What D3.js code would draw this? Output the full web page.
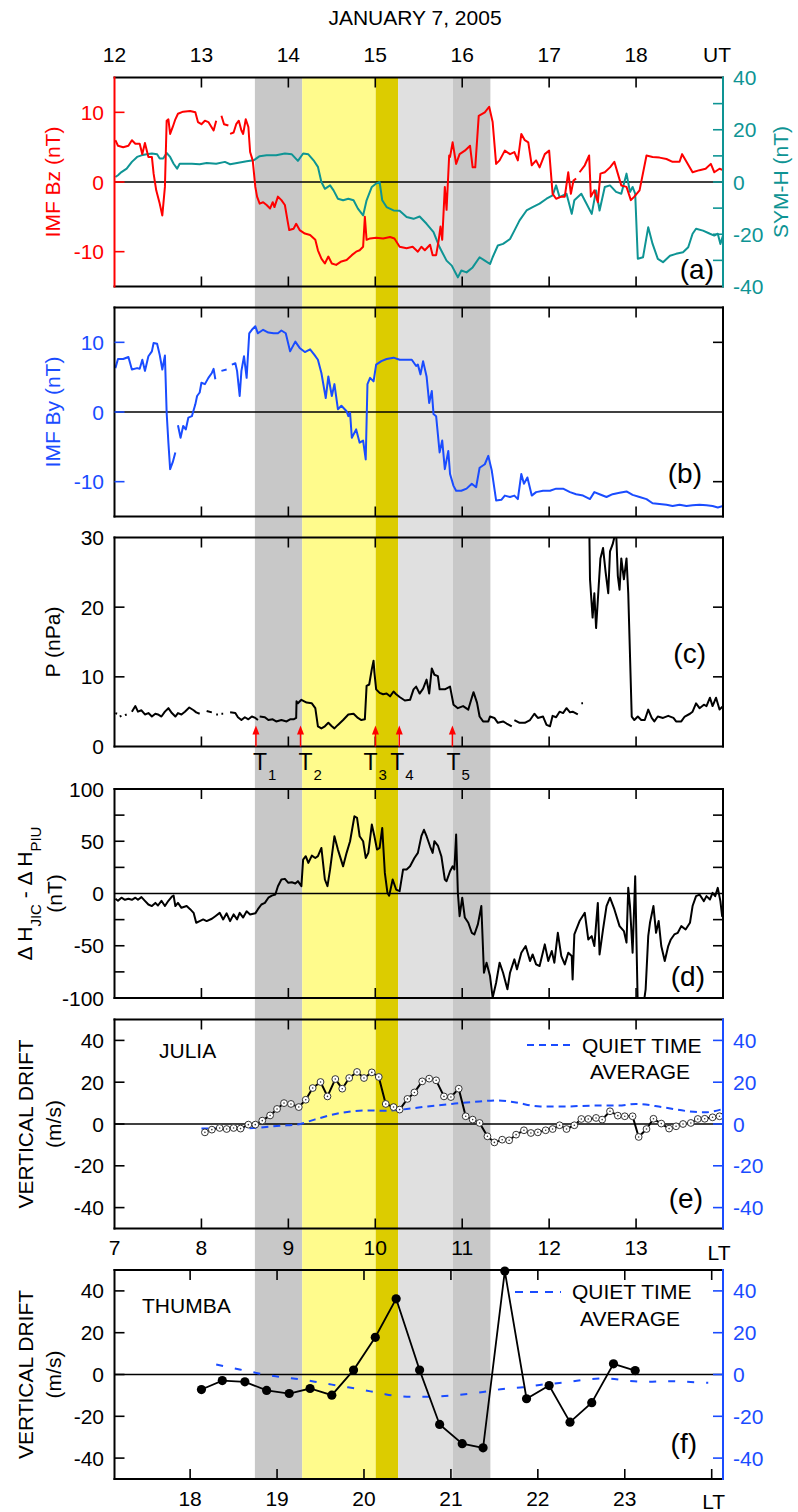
<!DOCTYPE html>
<html>
<head>
<meta charset="utf-8">
<title>January 7, 2005</title>
<script src="https://d3js.org/d3.v7.min.js"></script>
<style>
body { margin:0; background:#fff; }
text { font-family: "Liberation Sans", Arial, sans-serif; }
</style>
</head>
<body>
<div id="chart"></div>
<script>

// ---- data (UT hours, value); null = data gap ----
var bzSeries = [[12.01,6.0],[12.04,5.2],[12.10,5.0],[12.16,5.2],[12.20,6.0],[12.24,5.5],[12.29,5.5],[12.32,4.0],[12.35,5.6],[12.39,3.6],[12.43,3.6],[12.45,1.2],[12.48,-1.2],[12.52,-3.1],[12.55,-4.8],[12.58,-0.7],[12.60,8.8],[12.62,9.0],[12.64,6.9],[12.67,7.9],[12.70,9.0],[12.73,9.8],[12.79,10.1],[12.87,10.2],[12.93,10.0],[12.96,8.6],[13.00,8.3],[13.04,8.8],[13.08,8.6],[13.14,7.4],[13.17,8.8],[13.20,null],[13.23,9.5],[13.26,8.3],[13.31,8.1],[13.32,null],[13.33,6.9],[13.37,7.1],[13.40,8.3],[13.43,8.8],[13.46,7.4],[13.48,6.9],[13.51,9.0],[13.54,7.9],[13.56,4.3],[13.59,3.1],[13.62,-0.7],[13.64,-2.1],[13.67,-3.1],[13.71,-2.9],[13.75,-3.3],[13.79,-3.8],[13.82,-2.9],[13.84,-3.6],[13.88,-2.1],[13.92,-2.6],[13.96,-3.3],[13.99,-5.5],[14.01,-6.9],[14.06,-6.7],[14.09,-6.0],[14.13,-6.9],[14.19,-7.4],[14.25,-7.6],[14.31,-8.3],[14.34,-9.8],[14.38,-11.0],[14.42,-11.7],[14.46,-10.7],[14.50,-11.7],[14.55,-11.9],[14.61,-11.4],[14.67,-11.2],[14.73,-10.5],[14.78,-10.0],[14.82,-9.8],[14.86,-9.3],[14.88,-5.0],[14.90,-8.3],[14.94,-8.1],[15.01,-8.0],[15.09,-8.1],[15.17,-7.9],[15.22,-8.1],[15.28,-9.3],[15.36,-9.5],[15.43,-9.3],[15.49,-10.0],[15.53,-9.3],[15.57,-9.8],[15.63,-9.0],[15.66,-10.5],[15.70,-10.5],[15.73,-8.3],[15.75,-6.4],[15.77,-8.3],[15.80,-0.7],[15.82,-4.0],[15.85,3.8],[15.86,3.6],[15.89,5.7],[15.93,2.6],[15.97,4.0],[16.03,4.5],[16.09,5.2],[16.12,2.1],[16.15,2.1],[16.19,9.5],[16.26,10.0],[16.31,10.8],[16.35,8.6],[16.39,2.6],[16.43,3.1],[16.49,4.5],[16.55,4.0],[16.60,4.3],[16.64,3.1],[16.68,6.9],[16.72,6.0],[16.76,5.7],[16.80,2.4],[16.85,3.1],[16.89,2.1],[16.95,4.0],[17.00,4.5],[17.04,-1.7],[17.08,-2.4],[17.14,-2.1],[17.18,-2.1],[17.22,1.4],[17.25,-1.7],[17.28,0.2],[17.31,0.5],[17.33,null],[17.35,1.4],[17.41,2.4],[17.46,3.8],[17.48,-2.1],[17.52,-1.2],[17.56,-2.9],[17.59,1.2],[17.64,1.4],[17.70,2.1],[17.75,2.9],[17.79,1.2],[17.83,-0.5],[17.89,-0.7],[17.94,-2.6],[17.98,-2.1],[18.04,-1.2],[18.12,3.8],[18.19,3.6],[18.27,3.5],[18.35,3.3],[18.42,2.9],[18.50,2.9],[18.53,4.0],[18.58,2.9],[18.65,1.4],[18.73,1.7],[18.80,1.9],[18.86,2.6],[18.90,1.4],[18.96,1.9],[19.00,1.7]];

var symhSeries = [[12.01,1.9],[12.04,2.6],[12.08,3.8],[12.14,5.1],[12.20,7.7],[12.26,9.6],[12.31,10.2],[12.37,10.6],[12.43,10.9],[12.49,10.6],[12.52,9.0],[12.56,9.0],[12.60,11.1],[12.64,9.6],[12.68,7.0],[12.72,5.1],[12.75,7.0],[12.81,7.0],[12.89,7.0],[12.98,6.8],[13.06,7.3],[13.17,7.0],[13.27,7.7],[13.33,6.8],[13.41,7.3],[13.52,7.9],[13.60,8.3],[13.67,9.9],[13.75,10.2],[13.86,10.2],[13.96,10.9],[14.04,10.6],[14.11,8.1],[14.17,10.9],[14.23,10.6],[14.29,8.3],[14.34,5.8],[14.38,0],[14.42,-2.6],[14.48,-1.3],[14.52,-3.2],[14.57,-6.4],[14.63,-7.0],[14.69,-6.4],[14.75,-7.0],[14.80,-10.2],[14.86,-12.8],[14.90,-7.0],[14.96,-1.9],[15.01,-0.6],[15.05,0],[15.08,-7.0],[15.13,-9.6],[15.21,-10.9],[15.28,-11.0],[15.36,-13.4],[15.44,-14.1],[15.51,-13.2],[15.59,-16.0],[15.67,-19.2],[15.74,-25.0],[15.82,-30.1],[15.88,-32.0],[15.93,-35.2],[15.95,-36.5],[15.99,-33.9],[16.05,-34.6],[16.12,-32.7],[16.20,-28.8],[16.26,-30.1],[16.32,-31.4],[16.35,-28.8],[16.41,-24.3],[16.47,-23.7],[16.55,-21.8],[16.60,-18.6],[16.66,-14.7],[16.74,-10.9],[16.81,-9.6],[16.89,-8.3],[16.97,-6.4],[17.04,-5.1],[17.08,-1.3],[17.12,-5.8],[17.20,-4.5],[17.26,-12.2],[17.29,-7.0],[17.37,-4.5],[17.43,-8.3],[17.49,-12.2],[17.54,-3.2],[17.58,-10.9],[17.64,-1.9],[17.70,-1.3],[17.77,-3.8],[17.83,-4.5],[17.89,3.2],[17.93,-3.8],[17.96,-1.9],[17.99,-4.5],[18.02,-29.4],[18.08,-28.8],[18.14,-17.3],[18.19,-23.7],[18.25,-29.4],[18.31,-30.7],[18.39,-28.2],[18.46,-27.5],[18.54,-26.9],[18.60,-25.0],[18.65,-19.8],[18.69,-17.9],[18.77,-18.6],[18.85,-19.8],[18.90,-20.5],[18.94,-19.8],[18.97,-23.7],[19.00,-20.5]];

var bySeries = [[12.01,6.3],[12.04,7.6],[12.10,7.6],[12.16,7.9],[12.20,6.1],[12.26,6.3],[12.29,6.2],[12.32,7.5],[12.35,5.9],[12.39,8.0],[12.43,8.7],[12.45,9.9],[12.49,9.8],[12.52,8.2],[12.55,6.1],[12.58,8.1],[12.60,-0.1],[12.62,-4.4],[12.64,-8.2],[12.67,-7.2],[12.70,-5.8],[12.71,null],[12.73,-1.9],[12.76,-3.7],[12.79,-2.0],[12.82,-2.5],[12.85,-0.8],[12.89,-0.6],[12.93,1.1],[12.95,2.3],[12.98,2.8],[13.00,4.2],[13.04,4.0],[13.08,4.9],[13.12,5.6],[13.14,6.2],[13.16,4.7],[13.20,null],[13.23,5.9],[13.29,6.1],[13.31,null],[13.35,6.8],[13.39,7.0],[13.41,5.9],[13.44,2.3],[13.46,5.9],[13.49,8.0],[13.52,4.9],[13.55,11.3],[13.58,11.8],[13.62,12.3],[13.65,11.3],[13.71,11.8],[13.77,11.4],[13.83,11.3],[13.88,11.3],[13.92,11.7],[13.97,11.3],[14.02,8.7],[14.08,10.1],[14.13,9.2],[14.19,8.6],[14.25,9.0],[14.30,8.2],[14.34,7.5],[14.38,5.6],[14.43,2.0],[14.46,5.1],[14.50,2.3],[14.53,4.0],[14.57,0.4],[14.61,0.9],[14.67,0.1],[14.69,-0.6],[14.71,-0.1],[14.73,-3.7],[14.78,-2.5],[14.82,-4.4],[14.86,-4.1],[14.89,-6.8],[14.91,4.0],[14.94,4.9],[14.98,4.4],[15.01,6.8],[15.07,7.3],[15.13,7.6],[15.21,7.8],[15.28,7.5],[15.36,7.5],[15.42,7.5],[15.47,6.6],[15.49,6.8],[15.52,5.4],[15.55,7.3],[15.59,5.1],[15.62,1.3],[15.65,3.0],[15.67,-0.3],[15.70,-0.6],[15.74,-5.8],[15.77,-4.1],[15.80,-8.2],[15.84,-5.6],[15.86,-8.9],[15.90,-10.6],[15.93,-11.3],[15.99,-11.3],[16.05,-11.0],[16.11,-10.3],[16.16,-10.8],[16.20,-8.0],[16.26,-7.5],[16.30,-6.3],[16.34,-8.4],[16.39,-12.7],[16.45,-12.6],[16.49,-12.0],[16.55,-12.2],[16.60,-12.0],[16.64,-12.5],[16.68,-8.9],[16.71,-10.3],[16.75,-9.4],[16.80,-12.0],[16.85,-11.5],[16.93,-11.3],[17.01,-11.3],[17.08,-11.0],[17.16,-11.0],[17.24,-11.5],[17.31,-11.8],[17.39,-12.0],[17.47,-12.5],[17.52,-11.5],[17.58,-11.8],[17.66,-12.2],[17.73,-11.8],[17.81,-11.6],[17.89,-11.4],[17.96,-11.9],[18.04,-12.2],[18.12,-12.5],[18.19,-13.1],[18.27,-13.2],[18.35,-13.3],[18.42,-13.5],[18.50,-13.3],[18.58,-13.5],[18.65,-13.4],[18.73,-13.3],[18.81,-13.4],[18.88,-13.5],[18.94,-13.7],[19.00,-13.5]];

var pSeries = [[12.01,4.8],[12.03,4.7],[12.04,null],[12.06,4.3],[12.08,4.4],[12.09,null],[12.12,4.5],[12.14,4.6],[12.16,null],[12.20,5.0],[12.24,5.8],[12.27,5.0],[12.31,5.2],[12.35,4.6],[12.39,4.8],[12.43,4.3],[12.47,4.7],[12.50,4.6],[12.54,4.3],[12.58,5.0],[12.62,5.5],[12.66,4.8],[12.70,4.3],[12.73,4.8],[12.77,4.6],[12.81,5.0],[12.86,5.6],[12.91,5.2],[12.94,4.9],[12.98,4.7],[13.00,null],[13.06,5.1],[13.12,4.9],[13.13,null],[13.17,4.6],[13.19,4.6],[13.20,null],[13.23,4.7],[13.25,4.7],[13.26,null],[13.33,4.9],[13.39,4.8],[13.42,4.2],[13.46,3.8],[13.50,4.2],[13.54,3.9],[13.58,4.3],[13.62,4.1],[13.65,3.8],[13.66,null],[13.67,4.3],[13.73,4.2],[13.77,3.8],[13.82,3.9],[13.86,3.6],[13.92,3.8],[13.98,3.6],[14.02,3.9],[14.06,3.9],[14.09,4.1],[14.094,6.5],[14.11,6.2],[14.15,6.7],[14.21,6.3],[14.27,6.2],[14.31,5.5],[14.34,2.9],[14.38,2.6],[14.42,2.9],[14.46,3.4],[14.50,2.9],[14.53,2.6],[14.57,3.1],[14.63,3.8],[14.69,4.6],[14.75,4.7],[14.80,4.1],[14.84,3.8],[14.88,3.9],[14.90,8.7],[14.93,8.9],[14.96,11.1],[14.98,12.3],[14.99,10.6],[15.01,8.2],[15.05,7.7],[15.09,7.5],[15.13,7.6],[15.17,7.2],[15.21,7.9],[15.24,7.5],[15.28,7.1],[15.34,6.6],[15.40,6.7],[15.44,8.2],[15.47,8.6],[15.51,7.6],[15.55,8.3],[15.59,9.6],[15.62,7.6],[15.65,11.2],[15.68,10.3],[15.72,10.1],[15.74,8.2],[15.80,8.2],[15.86,8.6],[15.90,6.0],[15.95,5.5],[16.01,5.8],[16.07,5.3],[16.11,7.0],[16.13,7.8],[16.17,6.3],[16.20,4.3],[16.24,3.6],[16.30,3.6],[16.32,4.3],[16.37,4.1],[16.41,3.4],[16.47,3.6],[16.51,3.3],[16.57,2.9],[16.58,null],[16.60,3.8],[16.66,3.4],[16.72,3.4],[16.78,3.8],[16.83,4.7],[16.87,4.1],[16.93,4.3],[16.97,3.1],[17.01,2.9],[17.04,4.4],[17.08,4.2],[17.12,5.0],[17.16,4.8],[17.20,5.5],[17.24,4.9],[17.27,5.0],[17.33,4.6],[17.36,null],[17.37,6.2],[17.39,6.2],[17.41,null],[17.46,33],[17.47,24],[17.50,18.5],[17.52,22],[17.54,17],[17.57,23],[17.59,27],[17.62,28.5],[17.65,25],[17.68,22],[17.70,28],[17.73,29],[17.77,31],[17.79,24.5],[17.81,22.5],[17.83,27],[17.86,24],[17.89,27],[17.91,22],[17.95,4.3],[17.98,3.8],[18.02,4.3],[18.06,3.8],[18.10,3.8],[18.14,5.3],[18.18,4.1],[18.21,3.6],[18.25,4.3],[18.31,4.1],[18.37,4.4],[18.43,4.1],[18.46,3.6],[18.52,3.6],[18.56,4.3],[18.62,4.7],[18.65,5.0],[18.69,6.2],[18.73,5.5],[18.78,6.0],[18.81,5.8],[18.85,7.0],[18.88,5.8],[18.92,7.0],[18.96,5.3],[19.00,5.8]];

var dhSeries = [[12.01,-5],[12.04,-7],[12.08,-4],[12.12,-6],[12.16,-5],[12.20,-6],[12.24,-4],[12.27,-6],[12.31,-3.5],[12.35,-7],[12.39,-10.5],[12.43,-12],[12.47,-9],[12.50,-11.5],[12.54,-7],[12.58,-12],[12.62,-7],[12.66,-3],[12.68,-2],[12.70,-12],[12.73,-9],[12.77,-13.7],[12.83,-12],[12.87,-15],[12.91,-18.5],[12.94,-28],[12.98,-26.4],[13.02,-24.8],[13.06,-26.4],[13.12,-24.2],[13.16,-21.7],[13.21,-18.5],[13.25,-24.8],[13.29,-19],[13.33,-26.4],[13.37,-20],[13.41,-24.8],[13.44,-18.5],[13.48,-23],[13.52,-17],[13.56,-20],[13.62,-19],[13.65,-15],[13.69,-10.5],[13.73,-9],[13.77,-4],[13.81,-2],[13.85,-1],[13.88,7],[13.92,13.4],[13.96,14],[14.00,10.2],[14.04,10.8],[14.08,9.6],[14.11,11.8],[14.15,7],[14.17,32.5],[14.20,35.7],[14.23,29.3],[14.27,36.3],[14.31,34],[14.34,35.7],[14.38,43.6],[14.42,13.4],[14.45,7],[14.48,23],[14.53,54.8],[14.57,42],[14.63,26],[14.67,38.9],[14.71,50],[14.76,73.9],[14.79,72.3],[14.82,54.8],[14.86,50],[14.89,34],[14.92,38.9],[14.96,66],[14.99,54.8],[15.02,42],[15.05,43.6],[15.08,62.7],[15.11,19.7],[15.14,0.6],[15.16,-2],[15.20,13.4],[15.24,3.8],[15.28,2.2],[15.32,23],[15.36,23],[15.40,26],[15.45,34],[15.49,38.9],[15.53,54.8],[15.56,61],[15.59,54.8],[15.63,45.2],[15.66,38.9],[15.68,50],[15.72,45.9],[15.76,35.7],[15.80,13.4],[15.82,11.8],[15.86,21.3],[15.89,26],[15.91,23],[15.93,56.4],[15.95,0.6],[15.97,-21.7],[16.00,-4],[16.03,-23],[16.07,-28],[16.11,-37.6],[16.14,-39.2],[16.18,-29.6],[16.22,-12],[16.25,-75.8],[16.28,-66.2],[16.32,-79],[16.35,-99.7],[16.39,-85.4],[16.43,-66.2],[16.47,-75.8],[16.52,-91.7],[16.55,-75.8],[16.60,-63],[16.63,-72.6],[16.68,-56.7],[16.73,-50.3],[16.78,-64.6],[16.81,-58.3],[16.85,-67.8],[16.89,-69.4],[16.95,-48.7],[16.99,-64.6],[17.03,-55],[17.06,-66.2],[17.10,-37.6],[17.14,-59.9],[17.18,-67.8],[17.22,-56.7],[17.26,-59.9],[17.27,-82.2],[17.29,-39.2],[17.35,-26.4],[17.41,-18.5],[17.45,-44],[17.49,-40.8],[17.52,-50.3],[17.56,-9],[17.58,-58.3],[17.62,-34.4],[17.66,-12],[17.70,-4],[17.75,-15],[17.81,-31.2],[17.86,-36],[17.89,-47],[17.91,5.4],[17.93,-12],[17.96,-56.7],[17.99,16.6],[18.02,-110],[18.08,-110],[18.11,-91.7],[18.14,-40.8],[18.16,-28],[18.20,-12],[18.23,-37.6],[18.26,-26.4],[18.29,-50.3],[18.33,-64.6],[18.37,-50.3],[18.40,-44],[18.44,-39.2],[18.48,-37.6],[18.52,-31.2],[18.57,-34.4],[18.62,-28],[18.65,-12],[18.69,-2.5],[18.73,-1],[18.78,-7.3],[18.81,-2.5],[18.85,-5.7],[18.88,0.6],[18.91,-2.5],[18.94,5.4],[18.97,-7.3],[18.99,-21.7],[19.00,-12]];

// Jicamarca (Peru) drift, local time = UT - 5
var julLT = [8.04,8.12,8.21,8.29,8.37,8.45,8.54,8.62,8.70,8.79,8.87,8.95,9.03,9.12,9.20,9.28,9.37,9.45,9.54,9.62,9.70,9.79,9.87,9.96,10.04,10.12,10.21,10.28,10.37,10.45,10.54,10.62,10.70,10.79,10.87,10.96,11.04,11.12,11.20,11.29,11.37,11.46,11.54,11.62,11.71,11.79,11.87,11.96,12.04,12.12,12.20,12.29,12.37,12.45,12.54,12.61,12.70,12.79,12.87,12.96,13.03,13.12,13.20,13.29,13.38,13.46,13.54,13.63,13.71,13.79,13.88,13.96];
var julDrift = [-4.0,-2.7,-1.9,-2.4,-1.9,-2.2,-0.3,-0.3,1.6,4.1,7.2,10.0,9.6,8.1,11.6,17.2,20.1,13.2,21.5,16.9,22.0,24.9,22.0,24.7,22.5,9.6,8.1,6.9,12.0,15.1,20.4,21.7,20.9,13.2,12.9,16.9,3.7,2.1,0.5,-5.9,-8.8,-7.5,-7.8,-5.1,-3.0,-4.3,-4.0,-3.0,-2.4,-0.6,-2.4,-0.6,2.4,2.4,2.9,2.1,6.1,4.0,3.7,3.7,-6.2,-2.4,2.5,0.2,-2.2,-1.1,0,0.5,2.4,2.5,3.2,3.7];
var julQuietLT = [8.0,8.3,8.6,8.9,9.1,9.3,9.6,9.9,10.1,10.3,10.6,10.9,11.2,11.4,11.6,11.9,12.2,12.5,12.8,13.0,13.3,13.6,13.8,14.0];
var julQuiet = [-2.2,-2.2,-1.9,-0.8,-0.3,2.1,5.3,6.5,6.3,6.9,8.4,9.7,10.8,11.3,10.4,8.4,8.4,8.8,8.8,9.6,8.1,6.1,5.6,7.2];

// Thumba (India) drift, local time = UT + 5.13
var thuLT = [18.13,18.37,18.63,18.88,19.14,19.38,19.63,19.88,20.13,20.37,20.64,20.87,21.13,21.37,21.62,21.87,22.13,22.37,22.62,22.87,23.12];
var thuDrift = [-7.2,-2.9,-3.5,-7.6,-9.1,-6.7,-9.9,2.1,17.8,36.2,2.1,-23.9,-33.1,-35.1,49.5,-11.6,-5.3,-22.8,-13.5,5.1,1.9];
var thuQuietLT = [18.30,18.57,18.82,19.05,19.28,19.51,19.74,19.97,20.20,20.41,20.64,20.87,21.10,21.37,21.60,21.83,22.06,22.33,22.56,22.79,23.02,23.25,23.48,23.71,23.96];
var thuQuiet = [4.8,2.4,0.3,-1.3,-2.4,-4.0,-5.6,-7.2,-9.1,-10.4,-10.7,-10.4,-9.7,-8.4,-6.9,-6.1,-4.8,-3.7,-2.4,-1.9,-2.9,-3.5,-3.2,-3.5,-4.0];

// shaded intervals (UT) and event markers
var bandStart = [13.615, 14.159, 15.005, 15.264, 15.894];
var bandEnd   = [14.159, 15.005, 15.264, 15.894, 16.324];
var bandColor = ["#c8c8c8", "#fffb8c", "#dccc00", "#e0e0e0", "#c8c8c8"];
var tTimes = [13.627, 14.14, 15.002, 15.276, 15.887];
var tNames = ["1", "2", "3", "4", "5"];
var tDx = [-3, -2, -12, -9, -6];

var utTicks = [12,13,14,15,16,17,18];
var julTicks = [7,8,9,10,11,12,13];
var thuTicks = [18,19,20,21,22,23];

// ---- layout ----
var W = 798, H = 1512, L = 114.5, R = 723, PH = 209, FS = "21px";
var RED = "#ff0000", TEAL = "#0e9494", BLUE = "#1a4cff";

var svg = d3.select("#chart").append("svg").attr("width", W).attr("height", H);
var defs = svg.append("defs");

var xUT = d3.scaleLinear().domain([12, 19]).range([L, R]);
var xJul = d3.scaleLinear().domain([12 - 5, 19 - 5]).range([L, R]);
var xThu = d3.scaleLinear().domain([12 + 5.13, 19 + 5.13]).range([L, R]);

var topA = 77.5, topB = 307.5, topC = 537.5, topD = 789, topE = 1019.5, topF = 1270;

// shaded bands behind everything
svg.selectAll(".band").data(bandStart).enter().append("rect")
  .attr("x", (d,i) => xUT(d))
  .attr("width", (d,i) => xUT(bandEnd[i]) - xUT(d))
  .attr("y", topA).attr("height", topF + PH - topA)
  .attr("fill", (d,i) => bandColor[i]);

function clip(id, top) {
  defs.append("clipPath").attr("id", id).append("rect")
    .attr("x", L).attr("y", top).attr("width", R - L).attr("height", PH);
  return "url(#" + id + ")";
}

function zeroLine(y) {
  svg.append("line").attr("x1", L).attr("x2", R).attr("y1", y(0)).attr("y2", y(0))
    .attr("stroke", "#000").attr("stroke-width", 1.6);
}

function series(data, y, color, clipUrl, xs) {
  xs = xs || xUT;
  var line = d3.line().defined(d => d[1] !== null).x(d => xs(d[0])).y(d => y(d[1]));
  svg.append("path").datum(data).attr("d", line).attr("fill", "none")
    .attr("stroke", color).attr("stroke-width", 2).attr("stroke-linejoin", "round")
    .attr("clip-path", clipUrl);
}

function frame(top, leftCol, rightCol) {
  var b = top + PH;
  var g = svg.append("g").attr("stroke-width", 2).attr("stroke-linecap", "square");
  g.append("line").attr("x1", L).attr("x2", R).attr("y1", top).attr("y2", top).attr("stroke", "#000");
  g.append("line").attr("x1", L).attr("x2", R).attr("y1", b).attr("y2", b).attr("stroke", "#000");
  g.append("line").attr("x1", L).attr("x2", L).attr("y1", top).attr("y2", b).attr("stroke", leftCol);
  g.append("line").attr("x1", R).attr("x2", R).attr("y1", top).attr("y2", b).attr("stroke", rightCol);
}

function xTicks(top, xs, vals) {
  var b = top + PH;
  vals.forEach(function(v) {
    var x = xs(v);
    if (x <= L + 1 || x >= R - 1) return;
    svg.append("line").attr("x1", x).attr("x2", x).attr("y1", top).attr("y2", top + 10).attr("stroke", "#000").attr("stroke-width", 1.6);
    svg.append("line").attr("x1", x).attr("x2", x).attr("y1", b - 10).attr("y2", b).attr("stroke", "#000").attr("stroke-width", 1.6);
  });
}

function yTicks(y, vals, side, color) {
  vals.forEach(function(v) {
    var x0 = side == "l" ? L : R - 10;
    svg.append("line").attr("x1", x0).attr("x2", x0 + 10).attr("y1", y(v)).attr("y2", y(v))
      .attr("stroke", color).attr("stroke-width", 1.6);
  });
}

function yLabels(y, vals, side, color) {
  vals.forEach(function(v) {
    svg.append("text").attr("x", side == "l" ? 104 : 733).attr("y", y(v)).attr("dy", "0.36em")
      .attr("text-anchor", side == "l" ? "end" : "start").attr("fill", color)
      .style("font-size", FS).text(v);
  });
}

function vtext(x, y, str, color) {
  return svg.append("text").attr("transform", "translate(" + x + "," + y + ") rotate(-90)")
    .attr("text-anchor", "middle").attr("fill", color).style("font-size", FS).text(str);
}

function panelTag(x, y, s) {
  svg.append("text").attr("x", x).attr("y", y).attr("text-anchor", "end")
    .style("font-size", "28px").text(s);
}

// ---- title and UT axis ----
svg.append("text").attr("x", 415).attr("y", 25).attr("text-anchor", "middle")
  .style("font-size", FS).text("JANUARY 7, 2005");
utTicks.forEach(function(t) {
  svg.append("text").attr("x", xUT(t)).attr("y", 62).attr("text-anchor", "middle")
    .style("font-size", FS).text(t);
});
svg.append("text").attr("x", xUT(19) - 6).attr("y", 62).attr("text-anchor", "middle")
  .style("font-size", FS).text("UT");

// ---- (a) IMF Bz and SYM-H ----
var yBz = d3.scaleLinear().domain([-15, 15]).range([topA + PH, topA]);
var ySym = d3.scaleLinear().domain([-40, 40]).range([topA + PH, topA]);
var clipA = clip("clipA", topA);
zeroLine(yBz);
series(symhSeries, ySym, TEAL, clipA);
series(bzSeries, yBz, RED, clipA);
frame(topA, RED, TEAL);
xTicks(topA, xUT, utTicks);
yTicks(yBz, [-10, 0, 10], "l", RED);
yTicks(ySym, [-30, -20, -10, 0, 10, 20, 30], "r", TEAL);
yLabels(yBz, [-10, 0, 10], "l", RED);
yLabels(ySym, [-40, -20, 0, 20, 40], "r", TEAL);
vtext(60, yBz(0), "IMF Bz (nT)", RED);
vtext(788, yBz(0), "SYM-H (nT)", TEAL);
panelTag(714, 279, "(a)");

// ---- (b) IMF By ----
var yBy = d3.scaleLinear().domain([-15, 15]).range([topB + PH, topB]);
var clipB = clip("clipB", topB);
zeroLine(yBy);
series(bySeries, yBy, BLUE, clipB);
frame(topB, "#000", "#000");
xTicks(topB, xUT, utTicks);
yTicks(yBy, [-10, 0, 10], "l", BLUE);
yTicks(yBy, [-10, 10], "r", "#000");
yLabels(yBy, [-10, 0, 10], "l", BLUE);
vtext(60, yBy(0), "IMF By (nT)", BLUE);
panelTag(702, 483, "(b)");

// ---- (c) dynamic pressure ----
var yP = d3.scaleLinear().domain([0, 30]).range([topC + PH, topC]);
var clipC = clip("clipC", topC);
series(pSeries, yP, "#000", clipC);
frame(topC, "#000", "#000");
xTicks(topC, xUT, utTicks);
yTicks(yP, [10, 20], "l", "#000");
yTicks(yP, [10, 20], "r", "#000");
yLabels(yP, [0, 10, 20, 30], "l", "#000");
vtext(60, yP(15), "P (nPa)", "#000");
panelTag(706, 663, "(c)");

// event arrows and labels
tTimes.forEach(function(t, i) {
  var x = xUT(t), b = topC + PH;
  svg.append("line").attr("x1", x).attr("x2", x).attr("y1", b).attr("y2", b - 13)
    .attr("stroke", RED).attr("stroke-width", 1.5);
  svg.append("path").attr("d", "M" + (x - 3.5) + "," + (b - 12) + "L" + x + "," + (b - 21) + "L" + (x + 3.5) + "," + (b - 12) + "Z")
    .attr("fill", RED);
  var tx = svg.append("text").attr("x", x + tDx[i]).attr("y", 770);
  tx.append("tspan").style("font-size", "23px").text("T");
  tx.append("tspan").attr("dx", 1).attr("dy", 10).style("font-size", "15px").text(tNames[i]);
});

// ---- (d) delta H ----
var yDH = d3.scaleLinear().domain([-100, 100]).range([topD + PH, topD]);
var clipD = clip("clipD", topD);
zeroLine(yDH);
series(dhSeries, yDH, "#000", clipD);
frame(topD, "#000", "#000");
xTicks(topD, xUT, utTicks);
yTicks(yDH, [-75, -50, -25, 25, 50, 75], "l", "#000");
yTicks(yDH, [-75, -50, -25, 25, 50, 75], "r", "#000");
yLabels(yDH, [-100, -50, 0, 50, 100], "l", "#000");
var dhl = svg.append("text").attr("transform", "translate(32," + yDH(0) + ") rotate(-90)")
  .attr("text-anchor", "middle").style("font-size", FS);
dhl.append("tspan").text("\u0394 H");
dhl.append("tspan").attr("dy", 9).style("font-size", "15px").text("JIC");
dhl.append("tspan").attr("dy", -9).text(" - \u0394 H");
dhl.append("tspan").attr("dy", 9).style("font-size", "15px").text("PIU");
vtext(62, yDH(0), "(nT)", "#000");
panelTag(705, 986, "(d)");

// ---- (e) Jicamarca drift ----
var yE = d3.scaleLinear().domain([-50, 50]).range([topE + PH, topE]);
var clipE = clip("clipE", topE);
zeroLine(yE);
var julQ = julQuietLT.map((t, i) => [t, julQuiet[i]]);
var julPts = julLT.map((t, i) => [t, julDrift[i]]);
svg.append("path").datum(julQ)
  .attr("d", d3.line().curve(d3.curveMonotoneX).x(d => xJul(d[0])).y(d => yE(d[1])))
  .attr("fill", "none").attr("stroke", BLUE).attr("stroke-width", 2).attr("stroke-dasharray", "7,5")
  .attr("clip-path", clipE);
series(julPts, yE, "#000", clipE, xJul);
svg.selectAll(".jul").data(julPts).enter().append("circle")
  .attr("cx", d => xJul(d[0])).attr("cy", d => yE(d[1])).attr("r", 3.4)
  .attr("fill", "#fff").attr("stroke", "#333").attr("stroke-width", 1);
svg.selectAll(".juld").data(julPts).enter().append("circle")
  .attr("cx", d => xJul(d[0])).attr("cy", d => yE(d[1])).attr("r", 0.8).attr("fill", "#333");
frame(topE, "#000", BLUE);
xTicks(topE, xJul, julTicks);
yTicks(yE, [-40, -20, 0, 20, 40], "l", "#000");
yTicks(yE, [-40, -20, 0, 20, 40], "r", BLUE);
yLabels(yE, [-40, -20, 0, 20, 40], "l", "#000");
yLabels(yE, [-40, -20, 0, 20, 40], "r", BLUE);
julTicks.forEach(function(t) {
  svg.append("text").attr("x", xJul(t)).attr("y", 1255).attr("text-anchor", "middle")
    .style("font-size", FS).text(t);
});
svg.append("text").attr("x", xJul(14) - 4).attr("y", 1260).attr("text-anchor", "middle")
  .style("font-size", FS).text("LT");
svg.append("text").attr("x", 159).attr("y", 1058).style("font-size", FS).text("JULIA");
svg.append("line").attr("x1", 527).attr("x2", 571).attr("y1", 1045).attr("y2", 1045)
  .attr("stroke", BLUE).attr("stroke-width", 2).attr("stroke-dasharray", "7,5");
svg.append("text").attr("x", 582).attr("y", 1053).style("font-size", FS).text("QUIET TIME");
svg.append("text").attr("x", 640).attr("y", 1079).attr("text-anchor", "middle").style("font-size", FS).text("AVERAGE");
vtext(33, yE(0), "VERTICAL DRIFT", "#000");
vtext(61, yE(0), "(m/s)", "#000");
panelTag(703, 1208, "(e)");

// ---- (f) Thumba drift ----
var yF = d3.scaleLinear().domain([-50, 50]).range([topF + PH, topF]);
var clipF = clip("clipF", topF);
zeroLine(yF);
var thuQ = thuQuietLT.map((t, i) => [t, thuQuiet[i]]);
var thuPts = thuLT.map((t, i) => [t, thuDrift[i]]);
svg.append("path").datum(thuQ)
  .attr("d", d3.line().curve(d3.curveMonotoneX).x(d => xThu(d[0])).y(d => yF(d[1])))
  .attr("fill", "none").attr("stroke", BLUE).attr("stroke-width", 2).attr("stroke-dasharray", "7,12")
  .attr("clip-path", clipF);
svg.append("path").datum(thuPts)
  .attr("d", d3.line().x(d => xThu(d[0])).y(d => yF(d[1])))
  .attr("fill", "none").attr("stroke", "#000").attr("stroke-width", 1.8);
svg.selectAll(".thu").data(thuPts).enter().append("circle")
  .attr("cx", d => xThu(d[0])).attr("cy", d => yF(d[1])).attr("r", 4.6).attr("fill", "#000");
frame(topF, "#000", BLUE);
xTicks(topF, xThu, thuTicks.concat([24]));
yTicks(yF, [-40, -20, 0, 20, 40], "l", "#000");
yTicks(yF, [-40, -20, 0, 20, 40], "r", BLUE);
yLabels(yF, [-40, -20, 0, 20, 40], "l", "#000");
yLabels(yF, [-40, -20, 0, 20, 40], "r", BLUE);
thuTicks.forEach(function(t) {
  svg.append("text").attr("x", xThu(t)).attr("y", 1506).attr("text-anchor", "middle")
    .style("font-size", FS).text(t);
});
svg.append("text").attr("x", xThu(24) + 2).attr("y", 1509).attr("text-anchor", "middle")
  .style("font-size", FS).text("LT");
svg.append("text").attr("x", 142).attr("y", 1313).style("font-size", FS).text("THUMBA");
svg.append("line").attr("x1", 515).attr("x2", 561).attr("y1", 1292).attr("y2", 1292)
  .attr("stroke", BLUE).attr("stroke-width", 2).attr("stroke-dasharray", "8,7");
svg.append("text").attr("x", 572).attr("y", 1299).style("font-size", FS).text("QUIET TIME");
svg.append("text").attr("x", 630).attr("y", 1326).attr("text-anchor", "middle").style("font-size", FS).text("AVERAGE");
vtext(33, yF(0), "VERTICAL DRIFT", "#000");
vtext(61, yF(0), "(m/s)", "#000");
panelTag(697, 1453, "(f)");

</script>
</body>
</html>
